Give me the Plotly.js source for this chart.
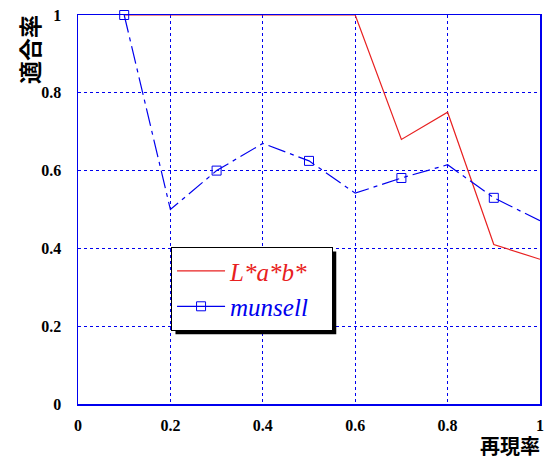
<!DOCTYPE html>
<html><head><meta charset="utf-8">
<script src="https://cdn.plot.ly/plotly-3.0.1.min.js"></script>
<style>body{margin:0;background:#fff}#c{width:551px;height:462px}</style>
</head><body><div id="c"></div>
<script>
const xVals = [0.1,0.2,0.3,0.4,0.5,0.6,0.7,0.8,0.9,1.0];
const labVals = [1,1,1,1,1,1,0.68,0.75,0.41,0.372];
const munsellVals = [1,0.5,0.6,0.67,0.625,0.542,0.581,0.615,0.53,0.471];
const markerX = [0.1,0.3,0.5,0.7,0.9];
const markerY = [1,0.6,0.625,0.581,0.53];
const tickVals = [0,0.2,0.4,0.6,0.8,1];
const tickText = ['0','0.2','0.4','0.6','0.8','1'];
const seriesNames = ['L*a*b*', 'munsell'];

function pickFont(cands) {
  const ctx = document.createElement('canvas').getContext('2d');
  const s = 'mmmmmlllllwwwiii0.123456789';
  const w = f => { ctx.font = '40px ' + f; return ctx.measureText(s).width; };
  const mono = w('monospace'), sans = w('sans-serif');
  for (const c of cands) {
    const a = w('"' + c + '", monospace'), b = w('"' + c + '", sans-serif');
    if (a !== mono && b !== sans) return c;
  }
  return 'serif';
}
const serif = pickFont(['Liberation Serif', 'Times New Roman', 'Tinos', 'Nimbus Roman', 'DejaVu Serif', 'Noto Serif']);

const blue = '#0000ee';
const dashPat = '18px,5px,4px,5px';
const pad = '&nbsp;&nbsp;&nbsp;';
const data = [
  {x:xVals, y:labVals, mode:'lines', line:{color:'#e82020', width:1.2}, name:'<i>' + seriesNames[0] + '</i>' + pad, showlegend:true},
  {x:xVals, y:munsellVals, mode:'lines', line:{color:blue, width:1.2, dash:dashPat}, showlegend:false},
  {x:markerX, y:markerY, mode:'markers', marker:{symbol:'square-open', size:9, color:blue, line:{width:1}}, showlegend:false, cliponaxis:false},
  {x:[null], y:[null], mode:'lines+markers', line:{color:blue, width:1.2}, marker:{symbol:'square-open', size:9, color:blue, line:{width:1}}, name:'<span style="color:#0000ee"><i>' + seriesNames[1] + '</i></span>'}
];
const axisCommon = {
  range:[0,1], tickvals:tickVals, ticktext:tickText, showgrid:true, gridcolor:blue, griddash:'dot', gridwidth:1,
  showline:true, mirror:true, linecolor:blue, linewidth:1.5, zeroline:false, ticks:'',
  tickfont:{family:serif, size:16, color:'#000', weight:'bold'}
};
const layout = {
  width:551, height:462, margin:{l:78, r:11, t:15, b:58},
  paper_bgcolor:'#fff', plot_bgcolor:'#fff',
  xaxis:Object.assign({}, axisCommon, {ticklabelstandoff:6}),
  yaxis:Object.assign({}, axisCommon, {ticklabelstandoff:12}),
  legend:{x:0.201, y:0.404, xanchor:'left', yanchor:'top', bgcolor:'#fff', bordercolor:'#000', borderwidth:1.2,
    font:{family:serif, size:25, color:'#e82020'}, tracegroupgap:0, itemwidth:48},
  shapes:[],
  annotations:[
    {text:'<b>適合率</b>', xref:'paper', yref:'paper', x:(29-78)/462, y:(404-50)/389, showarrow:false, textangle:-90,
      font:{family:'Noto Sans CJK JP', size:23, color:'#000'}, xanchor:'center', yanchor:'middle'},
    {text:'<b>再現率</b>', xref:'paper', yref:'paper', x:(541-78)/462, y:(404-461)/389, showarrow:false,
      font:{family:'Noto Sans CJK JP', size:20, color:'#000'}, xanchor:'right', yanchor:'bottom', borderpad:0}
  ]
};
Plotly.newPlot('c', data, layout, {displayModeBar:false, staticPlot:true}).then(gd => {
  const bg = gd.querySelector('.legend .bg');
  if (!bg) return;
  const r = bg.getBoundingClientRect();
  const c = gd.getBoundingClientRect();
  const L = 78, T = 15, W = 462, H = 389, off = 4;
  const x0 = (r.left - c.left + off - L) / W, x1 = (r.right - c.left + off - L) / W;
  const y1 = (T + H - (r.top - c.top + off)) / H, y0 = (T + H - (r.bottom - c.top + off)) / H;
  return Plotly.relayout(gd, {shapes:[{type:'rect', xref:'paper', yref:'paper', x0, x1, y0, y1, fillcolor:'#000', line:{width:0}, layer:'above'}]});
});
</script></body></html>
